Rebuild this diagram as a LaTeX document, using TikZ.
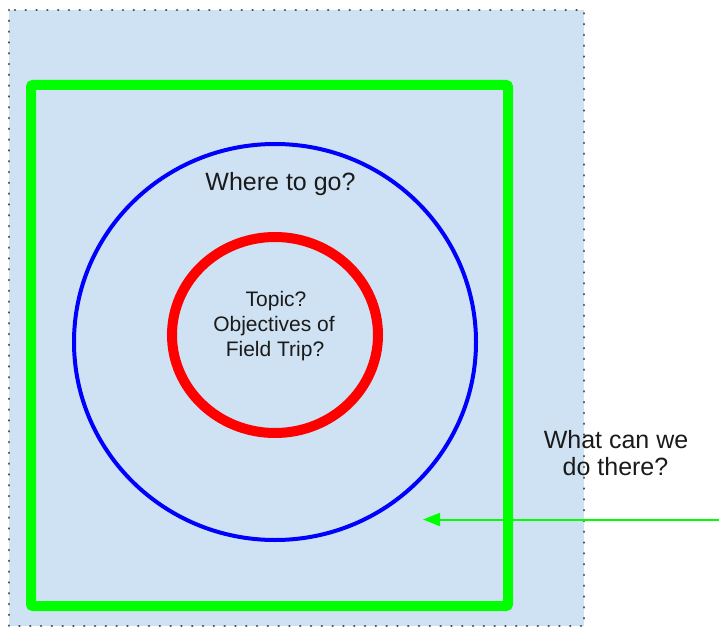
\documentclass[tikz,border=0pt]{standalone}
\usepackage{fontspec}
\setmainfont{Liberation Sans}
\usetikzlibrary{arrows.meta,shapes.geometric}
\definecolor{bgblue}{HTML}{CFE2F3}
\definecolor{gr}{HTML}{00FF00}
\definecolor{bl}{HTML}{0000FF}
\definecolor{rd}{HTML}{FF0000}
\definecolor{txt}{HTML}{1A1A1A}
\tikzset{
  label text/.style={text=txt, inner sep=0pt, anchor=base},
  big text/.style={label text, font=\fontsize{25}{27}\selectfont},
  small text/.style={label text, font=\fontsize{21}{25}\selectfont},
}
\begin{document}
\begin{tikzpicture}[x=1pt,y=-1pt]
\useasboundingbox (0,0) rectangle (719,628);
% background
\path[fill=bgblue, draw=black!70, line width=2.6pt, dash pattern=on 0.1pt off 10.7pt, line cap=round]
  (9,10) rectangle (584,626);
% green frame
\node[draw=gr, line width=10pt, rounded corners=2pt, minimum width=477pt, minimum height=521pt, inner sep=0pt] (frame) at (269.5,345.5) {};
% blue circle
\node[draw=bl, line width=4pt, ellipse, minimum width=402pt, minimum height=396pt, inner sep=0pt] (outer) at (275,342) {};
% red circle
\node[draw=rd, line width=10pt, ellipse, minimum width=206pt, minimum height=196pt, inner sep=0pt] (inner) at (275,335) {};
% texts
\node[big text] (where) at (280.5,191) {Where to go?};
\node[small text] (topic1) at (276,306) {Topic?};
\node[small text] (topic2) at (274,331) {Objectives of};
\node[small text] (topic3) at (275,356) {Field Trip?};
\node[big text] (what1) at (616,448) {What can we};
\node[big text] (what2) at (615.5,475) {do there?};
% arrow
\coordinate (astart) at (719,519.5);
\coordinate (aend) at (423,519.5);
\draw[gr, line width=2pt, -{Triangle[length=17pt,width=13pt]}] (astart) -- (aend);
\end{tikzpicture}
\end{document}
